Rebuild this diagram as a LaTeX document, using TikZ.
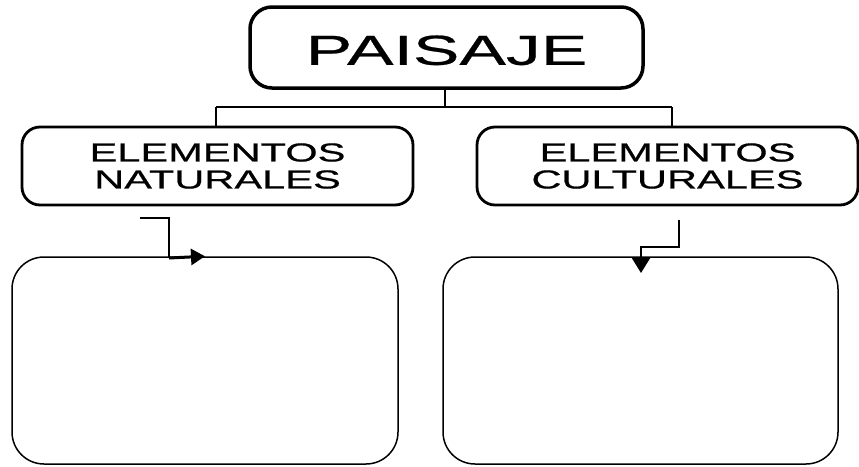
\documentclass[tikz,border=0pt]{standalone}
\usepackage{fontspec}
\usetikzlibrary{arrows.meta}
\newfontfamily\widesans[FakeStretch=1.6,FakeBold=0.6]{Liberation Sans}
\newfontfamily\widetitle[FakeStretch=1.66,FakeBold=0.6]{Liberation Sans}
\begin{document}
\begin{tikzpicture}[x=1pt,y=-1pt,
  topbox/.style={draw=black, line width=3.5pt, rounded corners=22pt, minimum width=393pt, minimum height=81pt, inner sep=0pt,
     text height=35pt, font=\widetitle\fontsize{42}{42}\selectfont},
  midbox/.style={draw=black, line width=2.8pt, rounded corners=18pt, minimum height=78pt, inner sep=0pt, align=center,
     font=\widesans\fontsize{26}{27}\selectfont},
  lowbox/.style={draw=black, line width=1.5pt, rounded corners=32pt, minimum height=207pt, inner sep=0pt},
  conn/.style={draw=black, line width=2pt},
  tip/.style={-{Triangle[length=14pt,width=16pt]}}
]
\useasboundingbox (0,0) rectangle (859,466);
\fill[white] (0,0) rectangle (859,466);

\node[topbox] (P) at (446.5,47.5) {PAISAJE};
\node[midbox, minimum width=391pt] (L) at (217.5,166) {ELEMENTOS\\NATURALES};
\node[midbox, minimum width=381pt] (R) at (667.5,166) {ELEMENTOS\\CULTURALES};
\node[lowbox, minimum width=386pt] (BL) at (205,360.5) {};
\node[lowbox, minimum width=395pt] (BR) at (640.5,360.5) {};

% top tree connectors
\coordinate (j) at (445,107);
\coordinate (jl) at (216,107);
\coordinate (jr) at (672,107);
\draw[conn] (j |- P.south) -- (j);
\draw[conn] (jl) -- (jr);
\draw[conn] (jl) -- (jl |- L.north);
\draw[conn] (jr) -- (jr |- R.north);

% left arrow
\coordinate (a1) at (140,218);
\coordinate (a2) at (169,218);
\coordinate (a3) at (169,258);
\coordinate (a4) at (205,258);
\draw[conn] (a1) -- (a2) -- (a3);
\draw[conn, line width=3pt, tip] (a3) -- (a4 |- BL.north);

% right arrow
\coordinate (b1) at (679,220);
\coordinate (b2) at (679,247);
\coordinate (b3) at (641,247);
\coordinate (b4) at (641,273);
\draw[conn] (b1) -- (b2) -- (b3) -- (b3 |- BR.north);
\draw[conn, -{Triangle[length=15pt,width=18pt]}] (b3 |- BR.north) -- (b4);
\end{tikzpicture}
\end{document}
